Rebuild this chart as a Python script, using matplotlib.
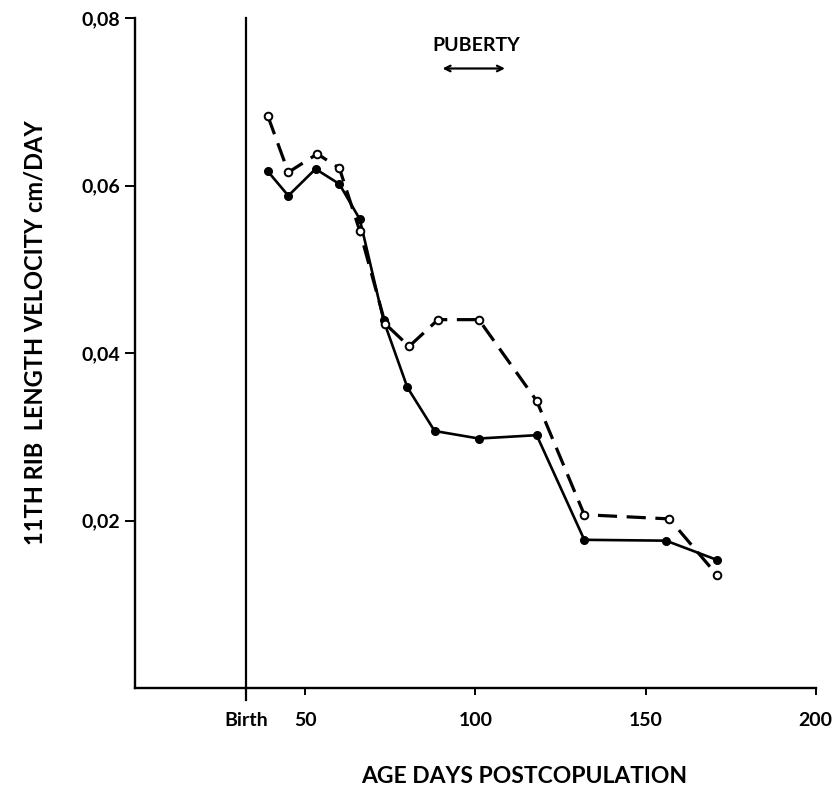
import matplotlib
matplotlib.use("Agg")
import matplotlib.pyplot as plt

# ---- data ----
birth_day = 32.5
ages_solid = [39, 45, 53, 60, 66, 73, 80, 88, 101, 118, 132, 156, 171]
vel_solid = [0.0617, 0.0588, 0.0620, 0.0602, 0.0560, 0.0439, 0.0359,
             0.0307, 0.0298, 0.0302, 0.0177, 0.0176, 0.0153]
ages_dashed = [39, 45, 53.5, 60, 66, 73.5, 80.5, 89, 101, 118, 132, 157, 171]
vel_dashed = [0.0683, 0.0616, 0.0638, 0.0621, 0.0546, 0.0435, 0.0408,
              0.0440, 0.0440, 0.0343, 0.0207, 0.0202, 0.0135]
xtick_vals = [birth_day, 50, 100, 150, 200]
xtick_labels = ["Birth", "50", "100", "150", "200"]
ytick_vals = [0.02, 0.04, 0.06, 0.08]
ytick_labels = ["0,02", "0,04", "0,06", "0,08"]
puberty_range = [89.5, 109.5]

plt.rcParams['font.family'] = ['Lato', 'DejaVu Sans']
plt.rcParams['font.weight'] = 'bold'
plt.rcParams['axes.labelweight'] = 'bold'

fig = plt.figure(figsize=(8.4, 7.94), dpi=100)
ax = fig.add_axes([0.161, 0.1335, 0.810, 0.8435])

ax.plot(ages_solid, vel_solid, '-', color='black', lw=1.9,
        marker='o', ms=5.5, mfc='black', mec='black', zorder=3)
ax.plot(ages_dashed, vel_dashed, color='black', lw=2.3, dashes=(6, 3),
        marker='o', ms=5.5, mfc='white', mec='black', mew=1.4, zorder=4)

ax.axvline(birth_day, ymin=-0.018, ymax=1.0, color='black', lw=1.6,
           clip_on=False)

ax.set_xlim(0, 200)
ax.set_ylim(0, 0.08)
for s in ['top', 'right']:
    ax.spines[s].set_visible(False)
for s in ['left', 'bottom']:
    ax.spines[s].set_linewidth(1.7)

ax.set_xticks(xtick_vals)
ax.set_xticklabels(xtick_labels)
ax.set_yticks(ytick_vals)
ax.set_yticklabels(ytick_labels)
ax.tick_params(axis='x', direction='out', length=5, width=1.4, pad=12,
               labelsize=14)
ax.tick_params(axis='y', direction='out', length=7, width=1.4, pad=4,
               labelsize=14)

ax.set_xlabel("AGE DAYS POSTCOPULATION", fontsize=16.5, fontweight='bold')
ax.xaxis.set_label_coords(0.571, -0.116)
ax.set_ylabel("11TH RIB  LENGTH VELOCITY cm/DAY", fontsize=17,
              fontweight='bold')
ax.yaxis.set_label_coords(-0.13, 0.53)

# puberty annotation
ax.annotate("", xy=(puberty_range[0], 0.0740), xytext=(puberty_range[1], 0.0740),
            arrowprops=dict(arrowstyle='<->', color='black', lw=1.6))
ax.text(100.2, 0.0768, "PUBERTY", ha='center', va='center',
        fontsize=14)

fig.savefig("out.png", dpi=100)
